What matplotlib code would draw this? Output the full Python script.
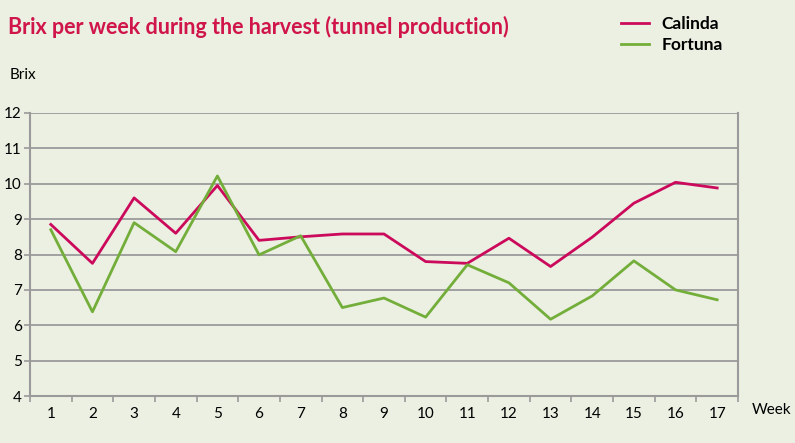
import matplotlib.pyplot as plt
from matplotlib.ticker import MultipleLocator

weeks = list(range(1, 18))
calinda = [8.85, 7.75, 9.6, 8.6, 9.95, 8.4, 8.5, 8.58, 8.58, 7.8, 7.75, 8.46, 7.66, 8.49, 9.45, 10.04, 9.88]
fortuna = [8.7, 6.38, 8.9, 8.08, 10.22, 7.99, 8.53, 6.5, 6.77, 6.23, 7.71, 7.2, 6.17, 6.83, 7.82, 7.0, 6.72]

bg = "#ebf0e3"
red = "#cc0a5c"
green = "#74ae3a"
grey = "#9a9a9a"

plt.rcParams["font.family"] = ["Lato", "DejaVu Sans"]

fig = plt.figure(figsize=(7.95, 4.43), dpi=100, facecolor=bg)
ax = fig.add_axes([0.0377, 0.106, 0.8906, 0.639], facecolor=bg)

ax.plot(weeks, calinda, color=red, lw=2, label="Calinda")
ax.plot(weeks, fortuna, color=green, lw=2, label="Fortuna")

ax.set_xlim(0.5, 17.5)
ax.set_ylim(4, 12)
ax.yaxis.set_major_locator(MultipleLocator(1))
ax.grid(axis="y", color=grey, lw=1.3)
ax.set_axisbelow(True)

ax.set_xticks(weeks)
ax.set_xticks([w + 0.5 for w in range(0, 18)], minor=True)
ax.tick_params(axis="x", which="major", length=0, pad=8, labelsize=11)
ax.tick_params(axis="x", which="minor", length=4, color=grey, width=1.2)
ax.tick_params(axis="y", length=4, color=grey, width=1.2, labelsize=11, pad=2)

for s in ["left", "right", "bottom"]:
    ax.spines[s].set_color(grey)
    ax.spines[s].set_linewidth(1.5)
ax.spines["top"].set_visible(False)

fig.text(0.01, 0.965, "Brix per week during the harvest (tunnel production)",
         color="#d0154a", fontsize=15.5, fontweight="bold", va="top")
fig.text(0.012, 0.83, "Brix", fontsize=11, va="center")
fig.text(0.946, 0.075, "Week", fontsize=11, va="center")

fig.legend(loc="upper left", bbox_to_anchor=(0.762, 1.0), frameon=False,
           prop={"size": 12.5, "weight": "bold"}, handlelength=1.6,
           labelspacing=0.3, handletextpad=0.7)

fig.savefig("out.png", dpi=100, facecolor=bg)
